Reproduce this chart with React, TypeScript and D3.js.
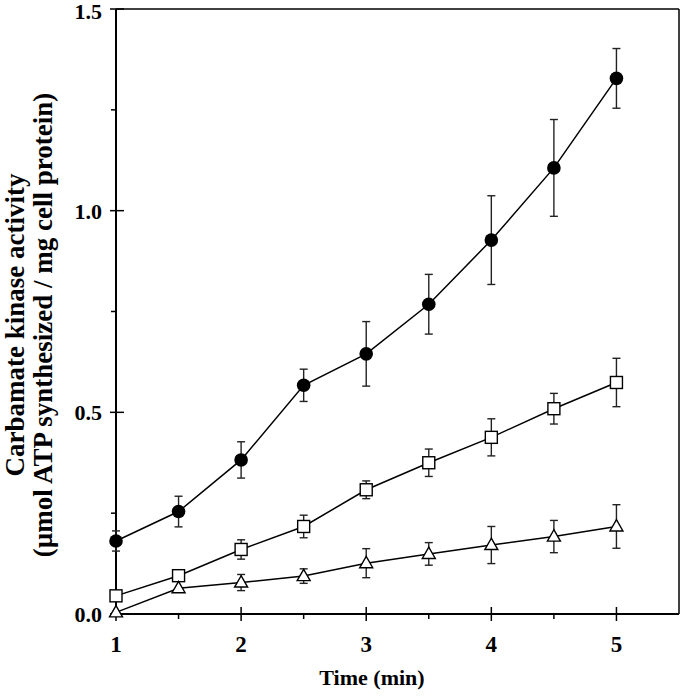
import * as d3 from "d3";

// time points (min)
const times = [1, 1.5, 2, 2.5, 3, 3.5, 4, 4.5, 5];

// filled circles
const circleVals = [0.181, 0.254, 0.382, 0.567, 0.645, 0.768, 0.927, 1.106, 1.328];
const circleErr = [0.025, 0.038, 0.045, 0.04, 0.08, 0.074, 0.11, 0.12, 0.074];

// open squares
const squareVals = [0.045, 0.095, 0.16, 0.217, 0.308, 0.375, 0.438, 0.509, 0.574];
const squareErr = [0, 0, 0.024, 0.028, 0.022, 0.034, 0.046, 0.038, 0.06];

// open triangles
const triangleVals = [0.004, 0.064, 0.078, 0.094, 0.126, 0.149, 0.171, 0.192, 0.217];
const triangleErr = [0, 0, 0.02, 0.018, 0.036, 0.028, 0.046, 0.04, 0.054];

const xTicks = [1, 2, 3, 4, 5];
const xMinor = [1.5, 2.5, 3.5, 4.5];
const yTicks = [0, 0.5, 1.0, 1.5];
const yMinor = [0.25, 0.75, 1.25];

const W = 680;
const H = 696;
const left = 116;
const right = 679;
const top = 9;
const bottom = 614;
const font = "'Liberation Serif', 'Times New Roman', serif";

export default function App() {
  const x = d3.scaleLinear().domain([1, 5.5]).range([left, right]);
  const y = d3.scaleLinear().domain([0, 1.5]).range([bottom, top]);

  const line = d3
    .line<number>()
    .x((_, i) => x(times[i]))
    .y((d) => y(d));

  const series = [
    { kind: "circle", vals: circleVals, err: circleErr },
    { kind: "square", vals: squareVals, err: squareErr },
    { kind: "triangle", vals: triangleVals, err: triangleErr },
  ];

  const marker = (kind: string, cx: number, cy: number, key: string) => {
    if (kind === "circle")
      return <circle key={key} cx={cx} cy={cy} r={6.8} fill="#000" />;
    if (kind === "square")
      return (
        <rect key={key} x={cx - 6} y={cy - 6} width={12} height={12}
          fill="#fff" stroke="#000" strokeWidth={1.4} />
      );
    const s = 13;
    const h = s * 0.87;
    const pts = [
      [cx, cy - h * 0.6],
      [cx - s / 2, cy + h * 0.4],
      [cx + s / 2, cy + h * 0.4],
    ];
    return (
      <polygon key={key} points={pts.map((p) => p.join(",")).join(" ")}
        fill="#fff" stroke="#000" strokeWidth={1.4} />
    );
  };

  return (
    <svg width={W} height={H} style={{ position: "absolute", left: 0, top: 0, background: "#fff" }}
      fontFamily={font} fontWeight="bold">
      <rect width={W} height={H} fill="#fff" />

      {/* frame */}
      <line x1={left} x2={right} y1={top} y2={top} stroke="#000" strokeWidth={1.5} />
      <line x1={right} x2={right} y1={top} y2={bottom} stroke="#000" strokeWidth={1.5} />
      <line x1={left} x2={left} y1={top} y2={bottom} stroke="#000" strokeWidth={2} />
      <line x1={left} x2={right} y1={bottom} y2={bottom} stroke="#000" strokeWidth={2} />

      {/* x ticks */}
      {xTicks.map((t) => (
        <g key={"xt" + t}>
          <line x1={x(t)} x2={x(t)} y1={bottom - 7} y2={bottom + 7} stroke="#000" strokeWidth={1.5} />
          <text x={x(t)} y={bottom + 38} textAnchor="middle" fontSize={23}>{t}</text>
        </g>
      ))}
      {xMinor.map((t) => (
        <line key={"xm" + t} x1={x(t)} x2={x(t)} y1={bottom} y2={bottom + 5} stroke="#000" strokeWidth={1.5} />
      ))}

      {/* y ticks */}
      {yTicks.map((t) => (
        <g key={"yt" + t}>
          <line x1={left - 6} x2={left + 8} y1={y(t)} y2={y(t)} stroke="#000" strokeWidth={1.5} />
          <text x={left - 14} y={Math.max(y(t) + 8, 19)} textAnchor="end" fontSize={22}>
            {d3.format(".1f")(t)}
          </text>
        </g>
      ))}
      {yMinor.map((t) => (
        <line key={"ym" + t} x1={left - 5} x2={left} y1={y(t)} y2={y(t)} stroke="#000" strokeWidth={1.5} />
      ))}

      {/* axis titles */}
      <text x={372} y={685} textAnchor="middle" fontSize={22}>Time (min)</text>
      <g transform={`translate(0, 325) rotate(-90)`}>
        <text x={0} y={24} textAnchor="middle" fontSize={27}>Carbamate kinase activity</text>
        <text x={0} y={52} textAnchor="middle" fontSize={27}>
          (µmol ATP synthesized / mg cell protein)
        </text>
      </g>

      {/* lines */}
      {series.map((s) => (
        <path key={"l" + s.kind} d={line(s.vals) || ""} fill="none" stroke="#000" strokeWidth={1.5} />
      ))}

      {/* error bars */}
      {series.map((s) =>
        s.vals.map((v, i) =>
          s.err[i] > 0 ? (
            <g key={"e" + s.kind + i} stroke="#222" strokeWidth={1.4}>
              <line x1={x(times[i])} x2={x(times[i])} y1={y(v - s.err[i])} y2={y(v + s.err[i])} />
              <line x1={x(times[i]) - 4} x2={x(times[i]) + 4} y1={y(v - s.err[i])} y2={y(v - s.err[i])} />
              <line x1={x(times[i]) - 4} x2={x(times[i]) + 4} y1={y(v + s.err[i])} y2={y(v + s.err[i])} />
            </g>
          ) : null
        )
      )}

      {/* markers */}
      {series.map((s) => s.vals.map((v, i) => marker(s.kind, x(times[i]), y(v), s.kind + i)))}
    </svg>
  );
}
